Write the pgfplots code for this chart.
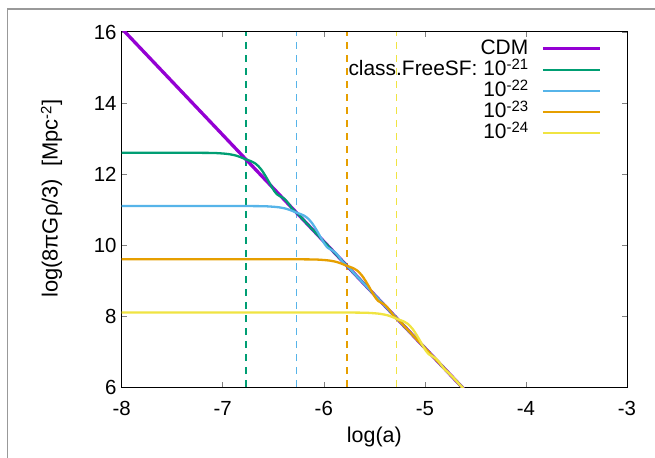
\documentclass[border=0pt]{standalone}
\usepackage{fontspec}
\setmainfont{Liberation Sans}
\usepackage{pgfplots}
\pgfplotsset{compat=1.18}
\definecolor{cdm}{HTML}{9400D3}
\definecolor{c21}{HTML}{009E73}
\definecolor{c22}{HTML}{56B4E9}
\definecolor{c23}{HTML}{E69F00}
\definecolor{c24}{HTML}{F0E442}
\newcommand\sups[1]{\raisebox{6.3bp}{\fontsize{15}{15}\selectfont #1}}
\begin{document}
\begin{tikzpicture}
\useasboundingbox (-121.7bp,-71bp) rectangle (533.3bp,387bp);
\draw[gray!80, line width=1.5bp] (-114.2bp,-71bp) -- (-114.2bp,378bp) -- (533.3bp,378bp);
\begin{axis}[
  at={(0,0)}, anchor=south west,
  scale only axis, width=505.3bp, height=355bp,
  xmin=-8, xmax=-3, ymin=6, ymax=16,
  xtick={-8,-7,-6,-5,-4,-3}, xticklabels={-8,-7,-6,-5,-4,-3},
  ytick={6,8,10,12,14,16}, yticklabels={6,8,10,12,14,16},
  tick align=inside, major tick length=5bp,
  tick style={gray, line width=0.6bp},
  axis line style={black, line width=1bp},
  ticklabel style={font=\fontsize{20.5}{21}\selectfont},
  xticklabel style={inner sep=0pt, anchor=north, yshift=-14bp},
  yticklabel style={inner sep=0pt, anchor=east, xshift=-5bp},
  xlabel={log(a)}, ylabel={log(8πGρ/3)\ \ [Mpc\sups{-2}]},
  xlabel style={font=\fontsize{21.5}{22}\selectfont, at={(axis description cs:0.5,-0.1577)}, anchor=base, inner sep=0pt},
  ylabel style={font=\fontsize{22}{22}\selectfont, at={(axis description cs:-0.1267,0.53)}, anchor=base, inner sep=0pt},
  legend cell align=right, legend plot pos=right,
  legend style={at={(axis description cs:0.95,0.979)}, anchor=north east, draw=none, fill=none,
    inner sep=0pt, row sep=3bp, column sep=13bp,
    nodes={inner sep=0pt, text height=15bp, text depth=3bp, font=\fontsize{21}{21}\selectfont}},
  legend image code/.code={\draw[#1] (0bp,0bp) -- (57bp,0bp);},
]
\addplot[c21, line width=1.7bp, dash pattern=on 7bp off 6bp, forget plot] coordinates {(-6.77,6) (-6.77,16)};
\addplot[c22, line width=1.7bp, dash pattern=on 7bp off 6bp, forget plot] coordinates {(-6.27,6) (-6.27,16)};
\addplot[c23, line width=1.7bp, dash pattern=on 7bp off 6bp, forget plot] coordinates {(-5.77,6) (-5.77,16)};
\addplot[c24, line width=1.7bp, dash pattern=on 7bp off 6bp, forget plot] coordinates {(-5.28,6) (-5.28,16)};

\addplot[cdm, line width=3.3bp] coordinates {(-8,16.1) (-4.5,5.6)};
\addlegendentry{CDM}

\addplot[c21, line width=2.3bp, smooth, tension=0.5] coordinates {
(-8,12.6) (-7.5,12.6) (-7.17,12.595) (-7.07,12.59) (-6.97,12.57) (-6.92,12.55) (-6.87,12.52)
(-6.82,12.47) (-6.77,12.41) (-6.72,12.36) (-6.67,12.28) (-6.62,12.13) (-6.57,11.91) (-6.52,11.66)
(-6.49,11.52) (-6.46,11.42) (-6.43,11.37) (-6.39,11.30) (-6.35,11.17) (-6.31,11.01) (-6.27,10.91)
(-6.22,10.77) (-6.17,10.61) (-5.5,8.60) (-4.5,5.6)};
\addlegendentry{class.FreeSF: 10\sups{-21}}

\addplot[c22, line width=2.3bp, smooth, tension=0.5] coordinates {
(-8,11.1) (-7,11.1) (-6.67,11.095) (-6.57,11.09) (-6.47,11.07) (-6.42,11.05) (-6.37,11.02)
(-6.32,10.97) (-6.27,10.91) (-6.22,10.86) (-6.17,10.78) (-6.12,10.63) (-6.07,10.41) (-6.02,10.16)
(-5.99,10.02) (-5.96,9.92) (-5.93,9.87) (-5.89,9.80) (-5.85,9.67) (-5.81,9.51) (-5.77,9.41)
(-5.72,9.27) (-5.67,9.11) (-5.1,7.40) (-4.5,5.6)};
\addlegendentry{10\sups{-22}}

\addplot[c23, line width=2.3bp, smooth, tension=0.5] coordinates {
(-8,9.6) (-6.5,9.6) (-6.17,9.595) (-6.07,9.59) (-5.97,9.57) (-5.92,9.55) (-5.87,9.52)
(-5.82,9.47) (-5.77,9.41) (-5.72,9.36) (-5.67,9.28) (-5.62,9.13) (-5.57,8.91) (-5.52,8.66)
(-5.49,8.52) (-5.46,8.42) (-5.43,8.37) (-5.39,8.30) (-5.35,8.17) (-5.31,8.01) (-5.27,7.91)
(-5.22,7.77) (-5.17,7.61) (-4.85,6.65) (-4.5,5.6)};
\addlegendentry{10\sups{-23}}

\addplot[c24, line width=2.3bp, smooth, tension=0.5] coordinates {
(-8,8.1) (-6,8.1) (-5.67,8.095) (-5.57,8.09) (-5.47,8.07) (-5.42,8.05) (-5.37,8.02)
(-5.32,7.97) (-5.27,7.91) (-5.22,7.86) (-5.17,7.78) (-5.12,7.63) (-5.07,7.41) (-5.02,7.16)
(-4.99,7.02) (-4.96,6.92) (-4.93,6.87) (-4.89,6.80) (-4.85,6.67) (-4.81,6.51) (-4.77,6.41)
(-4.72,6.27) (-4.67,6.11) (-4.6,5.9) (-4.5,5.6)};
\addlegendentry{10\sups{-24}}
\end{axis}
\end{tikzpicture}
\end{document}
